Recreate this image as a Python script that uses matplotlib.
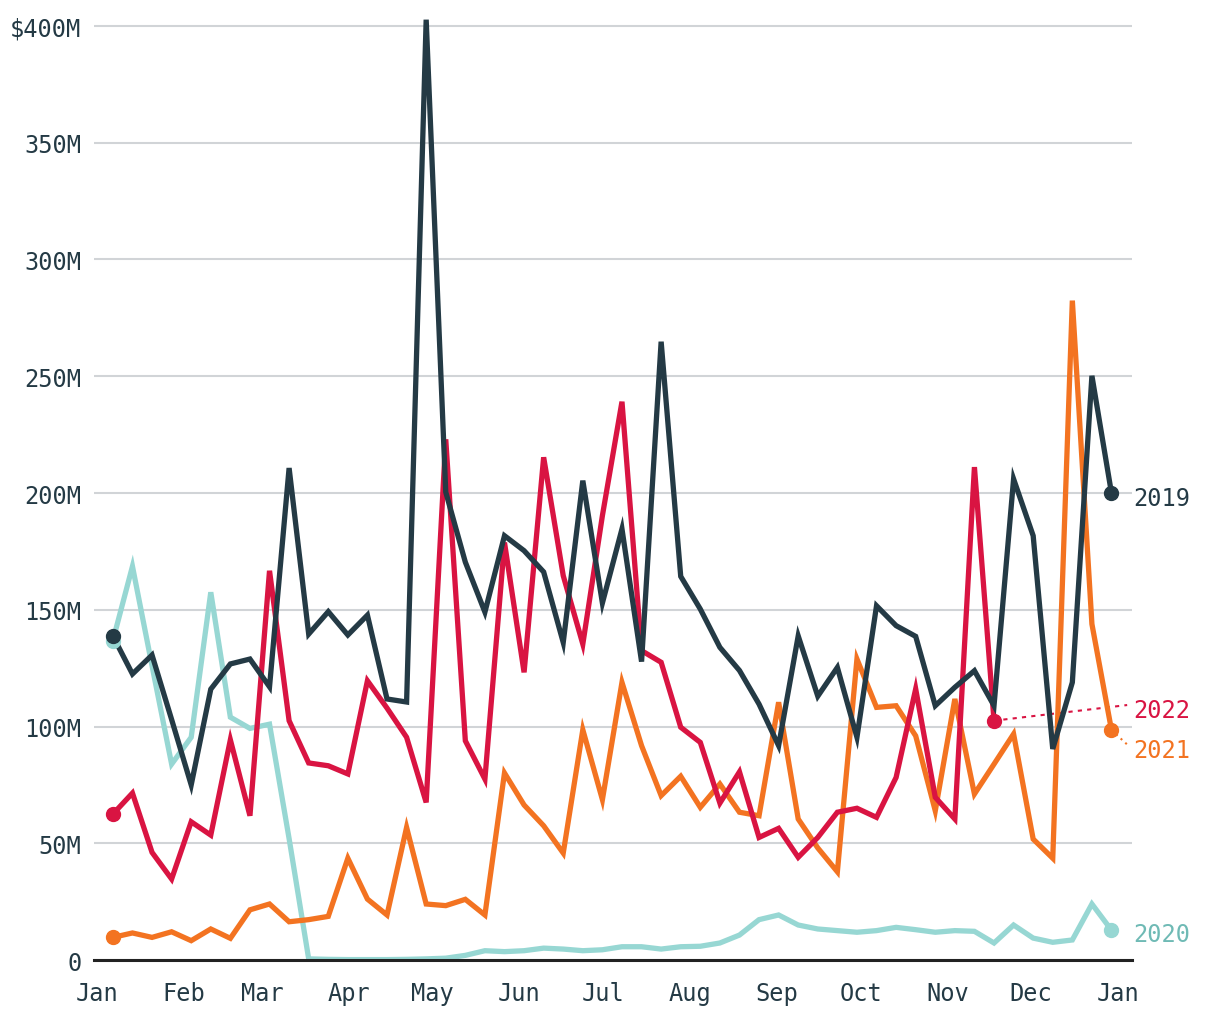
import numpy as np
import matplotlib
matplotlib.use("Agg")
import matplotlib.pyplot as plt

plt.rcParams['font.family'] = ['DejaVu Sans Mono', 'DejaVu Sans']

# weekly values, $M
v2019 = [138.8, 122.5, 130.6, 103, 75, 116, 126.8, 128.9, 117, 210.7,
         139.6, 149.2, 139.2, 147.7, 111.8, 110.5, 402.7, 200.4, 170.4, 149,
         181.7, 175.3, 166.2, 136, 205.3, 152.9, 184.6, 127.8, 264.8, 164.3,
         150.3, 133.9, 124, 109.6, 91.8, 138.8, 113, 125.3, 95.4, 151.7,
         143.2, 138.6, 108.9, 116.8, 123.9, 108.9, 206, 181.7, 90.4, 118.9,
         250.2, 199.9]
v2020 = [136.8, 168.6, 126, 83.9, 95.4, 157.5, 104, 99.2, 101, 52,
         0.5, 0.3, 0.2, 0.2, 0.2, 0.3, 0.5, 0.8, 2, 4,
         3.6, 4, 5.1, 4.7, 4, 4.4, 5.7, 5.7, 4.7, 5.7,
         5.9, 7.3, 10.7, 17.3, 19.3, 15, 13.3, 12.6, 11.9, 12.6,
         14, 13, 11.9, 12.6, 12.3, 7.3, 15, 9.4, 7.6, 8.6,
         24, 12.8]
v2021 = [9.7, 11.6, 9.7, 12.1, 8.3, 13.3, 9.3, 21.5, 24, 16.4,
         17.3, 18.7, 43.6, 26.1, 19.3, 56.8, 24, 23.3, 26, 19.3,
         80.1, 66.4, 57.5, 45.8, 98.6, 68.7, 118.9, 91.8, 70.4, 78.7,
         65.4, 75.4, 63.3, 61.8, 110.4, 60.4, 48, 37.8, 128.9, 108.2,
         108.9, 96, 63.9, 111.8, 71.1, 83.9, 96.8, 51.8, 43.6, 282.4,
         143.9, 98.5]
v2022 = [62.5, 71.5, 46.1, 34.7, 59.2, 53.5, 94.3, 61.8, 166.7, 102.5,
         84.4, 83.2, 79.7, 119.6, 107.9, 95.4, 67.5, 223, 93.9, 77.5,
         178.8, 123.2, 215.3, 164.6, 135.3, 190.3, 239.1, 132.5, 127.5, 99.7,
         93.2, 67.2, 80.6, 52.5, 56.4, 44, 52.5, 63.3, 65, 61.1,
         78.2, 116.1, 69.7, 60.4, 211.1, 102.5]

months = ['Jan', 'Feb', 'Mar', 'Apr', 'May', 'Jun', 'Jul', 'Aug', 'Sep',
          'Oct', 'Nov', 'Dec', 'Jan']
month_days = [0, 31, 59, 90, 120, 151, 181, 212, 243, 273, 304, 334, 365]
yticks = [0, 50, 100, 150, 200, 250, 300, 350, 400]
ylabels = ['0', '50M', '100M', '150M', '200M', '250M', '300M', '350M', '$400M']

# drawing order: 2020 at the back, 2019 on top
series = [
    (v2020, '#97d7d3'),
    (v2021, '#f37321'),
    (v2022, '#d91442'),
    (v2019, '#243a45'),
]

text_col = '#243a45'

fig = plt.figure(figsize=(12.2, 10.2), dpi=100)
ax = fig.add_axes([0.077, 0.0578, 0.8508, 0.9272])

for vals, col in series:
    x = 5.7 + 7 * np.arange(len(vals))
    ax.plot(x, vals, color=col, lw=3.8, solid_joinstyle='miter',
            solid_capstyle='round', zorder=3)
    ax.plot([x[0], x[-1]], [vals[0], vals[-1]], 'o', color=col, ms=10,
            zorder=4)

# end labels
lx = 370.4
fs = 17
ax.text(lx, v2019[-1] - 2, '2019', color='#243a45', fontsize=fs,
        va='center', ha='left', clip_on=False)
ax.text(lx, v2020[-1] - 1.5, '2020', color='#6fbab5', fontsize=fs,
        va='center', ha='left', clip_on=False)
ax.text(lx, 107, '2022', color='#d91442', fontsize=fs,
        va='center', ha='left', clip_on=False)
ax.text(lx, 90, '2021', color='#f37321', fontsize=fs,
        va='center', ha='left', clip_on=False)

# dotted leaders
x22 = 5.7 + 7 * (len(v2022) - 1)
x21 = 5.7 + 7 * (len(v2021) - 1)
ax.plot([x22, 368.3], [v2022[-1], 109.2], ls=(0, (2, 2.5)), lw=1.5,
        color='#d91442', clip_on=False, zorder=2)
ax.plot([x21, 368.3], [v2021[-1], 92.3], ls=(0, (1, 2)), lw=1.5,
        color='#f37321', clip_on=False, zorder=2)

ax.set_xlim(-1.07, 370)
ax.set_ylim(0, 405)
ax.set_yticks(yticks)
ax.set_yticklabels(ylabels)
ax.set_xticks(month_days)
ax.set_xticklabels(months)
ax.tick_params(axis='both', length=0, labelsize=fs, colors=text_col)
ax.tick_params(axis='y', pad=9)
ax.tick_params(axis='x', pad=15)

ax.grid(axis='y', color='#d1d4d7', lw=1.5, zorder=0)
ax.set_axisbelow(True)
for s in ['top', 'right', 'left']:
    ax.spines[s].set_visible(False)
ax.spines['bottom'].set_color('#222222')
ax.spines['bottom'].set_linewidth(2.2)
ax.spines['bottom'].set_zorder(5)

fig.savefig('out.png', dpi=100, facecolor='white')
